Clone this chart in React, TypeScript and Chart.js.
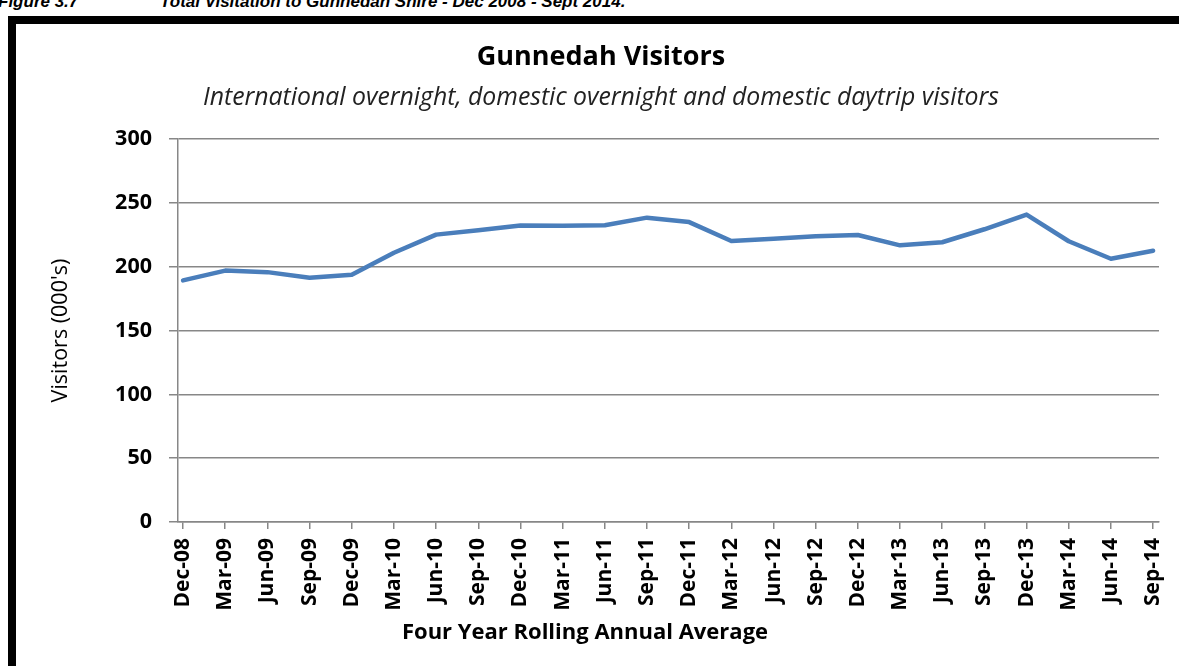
import React, { useEffect, useRef } from "react";
import { Chart, registerables } from "chart.js";

Chart.register(...registerables);

const quarters: string[] = [
  "Dec-08", "Mar-09", "Jun-09", "Sep-09", "Dec-09", "Mar-10", "Jun-10", "Sep-10",
  "Dec-10", "Mar-11", "Jun-11", "Sep-11", "Dec-11", "Mar-12", "Jun-12", "Sep-12",
  "Dec-12", "Mar-13", "Jun-13", "Sep-13", "Dec-13", "Mar-14", "Jun-14", "Sep-14",
];

const visitors: number[] = [
  189.3, 197, 195.8, 191.4, 193.8, 211, 225.2, 228.6,
  232.3, 232.2, 232.6, 238.5, 235, 220.2, 222, 224,
  224.9, 216.8, 219.2, 229.4, 240.9, 220, 206.3, 212.6,
];

const yTicks: number[] = [0, 50, 100, 150, 200, 250, 300];

const chartTitle = "Gunnedah Visitors";
const chartSubtitle = "International overnight, domestic overnight and domestic daytrip visitors";
const yTitle = "Visitors (000's)";
const xTitle = "Four Year Rolling Annual Average";
const figNumber = "Figure 3.7";
const figCaption = "Total Visitation to Gunnedah Shire - Dec 2008 - Sept 2014.";

const FONT = "'Open Sans', 'Noto Sans', sans-serif";
const GRID = "#878787";

export default function App() {
  const ref = useRef<HTMLCanvasElement | null>(null);

  useEffect(() => {
    if (!ref.current) return;
    const xTitlePlugin = {
      id: "xTitlePlugin",
      afterDraw(chart: any) {
        const ctx = chart.ctx;
        ctx.save();
        ctx.font = `bold 22px ${FONT}`;
        ctx.fillStyle = "#000";
        ctx.textAlign = "center";
        ctx.textBaseline = "middle";
        ctx.fillText(xTitle, 568, 609);
        ctx.restore();
      },
    };
    const chart = new Chart(ref.current, {
      type: "line",
      data: {
        datasets: [
          {
            label: "Visitors",
            data: visitors.map((v, i) => ({ x: i, y: v })),
            borderColor: "#4A7EBB",
            borderWidth: 4.5,
            pointRadius: 0,
            tension: 0,
            fill: false,
            borderCapStyle: "round",
            borderJoinStyle: "round",
          },
        ],
      },
      options: {
        responsive: false,
        animation: false,
        devicePixelRatio: 1,
        layout: { padding: { left: 26, right: 20, top: 0, bottom: 0 } },
        plugins: {
          legend: { display: false },
          tooltip: { enabled: false },
          title: {
            display: true,
            text: chartTitle,
            color: "#000",
            font: { family: FONT, size: 27, weight: "bold" },
            padding: { top: 17, bottom: 0 },
          },
          subtitle: {
            display: true,
            text: chartSubtitle,
            color: "#222",
            font: { family: FONT, size: 24.8, style: "italic", weight: "normal" },
            padding: { top: 10, bottom: 26 },
          },
        },
        scales: {
          x: {
            type: "linear",
            min: -0.12,
            max: 23.14,
            afterBuildTicks: (scale: any) => {
              scale.ticks = quarters.map((_, i) => ({ value: i }));
            },
            afterFit: (scale: any) => {
              scale.height = 144;
              scale.paddingLeft = 0;
              scale.paddingRight = 0;
            },
            ticks: {
              autoSkip: false,
              includeBounds: false,
              maxRotation: 90,
              minRotation: 90,
              padding: 9,
              color: "#000",
              font: { family: FONT, size: 21, weight: "bold" },
              callback: (v: any) => quarters[Math.round(Number(v))] ?? "",
            },
            grid: {
              drawOnChartArea: false,
              drawTicks: true,
              tickLength: 7,
              color: GRID,
              lineWidth: 1.5,
            },
            border: { display: true, color: GRID, width: 1.5 },
          },
          y: {
            min: 0,
            max: 300,
            afterBuildTicks: (scale: any) => {
              scale.ticks = yTicks.map((v) => ({ value: v }));
            },
            afterFit: (scale: any) => {
              scale.width = 135;
            },
            ticks: {
              padding: 17,
              color: "#000",
              font: { family: FONT, size: 21.5, weight: "bold" },
            },
            grid: {
              color: GRID,
              lineWidth: 1.5,
              tickLength: 9,
            },
            border: { display: true, color: GRID, width: 1.5 },
            title: {
              display: true,
              text: yTitle,
              color: "#000",
              font: { family: FONT, size: 21.5, weight: "normal" },
              padding: { top: 5.4, bottom: 0 },
            },
          },
        },
      },
      plugins: [xTitlePlugin],
    } as any);
    return () => chart.destroy();
  }, []);

  const capStyle: React.CSSProperties = {
    position: "absolute",
    top: -7,
    font: "italic bold 17px 'Liberation Sans', Arial, sans-serif",
    lineHeight: "17px",
    whiteSpace: "nowrap",
    color: "#000",
  };

  return (
    <div
      style={{
        position: "fixed",
        left: 0,
        top: 0,
        width: 1179,
        height: 666,
        overflow: "hidden",
        background: "#fff",
      }}
    >
      <div style={{ ...capStyle, left: -2 }}>{figNumber}</div>
      <div style={{ ...capStyle, left: 160 }}>{figCaption}</div>
      <div
        style={{
          position: "absolute",
          left: 8,
          top: 16,
          width: 2000,
          height: 1000,
          borderLeft: "8px solid #000",
          borderTop: "8px solid #000",
        }}
      />
      <canvas
        ref={ref}
        width={1162}
        height={642}
        style={{ position: "absolute", left: 17, top: 24, width: 1162, height: 642 }}
      />
    </div>
  );
}
